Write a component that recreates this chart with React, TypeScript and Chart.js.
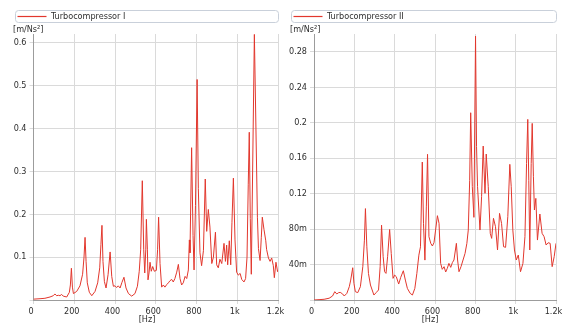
import React, { useEffect, useRef } from "react";
import { Chart, registerables } from "chart.js";

Chart.register(...registerables);

// ---------- data ----------
const seriesNames = ["Turbocompressor I", "Turbocompressor II"];
const yUnitLabel = "[m/Ns²]";
const xAxisLabel = "[Hz]";

const freqI = [
  0, 32, 56, 81, 97, 105, 114, 122, 130, 138, 146, 163, 176, 181, 186, 191, 196, 212, 228, 241,
  248, 253, 258, 264, 274, 286, 302, 315, 325, 331, 336, 341, 348, 356, 366, 376, 384, 392, 400, 408,
  416, 425, 434, 444, 454, 466, 482, 498, 510, 519, 526, 534, 541, 546, 551, 554, 559, 562, 567, 572,
  578, 585, 593, 603, 609, 614, 621, 629, 637, 645, 654, 662, 670, 678, 686, 694, 703, 711, 719, 727,
  735, 744, 752, 760, 765, 768, 776, 783, 788, 795, 803, 809, 817, 825, 834, 843, 850, 858, 866, 875,
  883, 893, 899, 907, 915, 924, 935, 942, 948, 953, 961, 968, 974, 981, 989, 997, 1005, 1014, 1022, 1033,
  1041, 1048, 1054, 1059, 1064, 1069, 1084, 1099, 1104, 1112, 1118, 1123, 1131, 1140, 1144, 1153, 1161, 1169, 1177, 1182,
  1190, 1198, 1200,
];
const ampI = [
  0.002, 0.003, 0.004, 0.007, 0.010, 0.014, 0.010, 0.011, 0.010, 0.013, 0.009, 0.007, 0.018, 0.035, 0.074, 0.030, 0.015, 0.020, 0.033, 0.060,
  0.100, 0.146, 0.090, 0.040, 0.018, 0.010, 0.020, 0.040, 0.075, 0.130, 0.174, 0.090, 0.043, 0.028, 0.059, 0.112, 0.055, 0.032, 0.033, 0.029,
  0.033, 0.028, 0.041, 0.053, 0.028, 0.015, 0.009, 0.015, 0.032, 0.067, 0.117, 0.278, 0.117, 0.063, 0.117, 0.188, 0.117, 0.047, 0.063, 0.088,
  0.067, 0.078, 0.067, 0.069, 0.117, 0.193, 0.085, 0.030, 0.035, 0.030, 0.036, 0.040, 0.045, 0.048, 0.042, 0.050, 0.065, 0.083, 0.050, 0.035,
  0.040, 0.055, 0.050, 0.070, 0.140, 0.110, 0.355, 0.150, 0.070, 0.220, 0.514, 0.260, 0.110, 0.080, 0.115, 0.282, 0.160, 0.211, 0.170, 0.085,
  0.100, 0.158, 0.082, 0.075, 0.095, 0.085, 0.132, 0.090, 0.128, 0.082, 0.138, 0.082, 0.180, 0.284, 0.140, 0.065, 0.058, 0.062, 0.048, 0.042,
  0.050, 0.100, 0.270, 0.391, 0.190, 0.060, 0.619, 0.193, 0.120, 0.092, 0.145, 0.193, 0.165, 0.138, 0.118, 0.098, 0.090, 0.098, 0.080, 0.052,
  0.088, 0.066, 0.070,
];

const freqII = [
  0, 25, 50, 75, 92, 103, 113, 122, 130, 142, 150, 163, 175, 182, 192, 198, 205, 217, 230, 242,
  250, 255, 262, 270, 280, 297, 308, 320, 328, 335, 343, 350, 357, 365, 375, 383, 392, 400, 408, 420,
  430, 443, 453, 463, 477, 488, 500, 510, 520, 528, 537, 543, 550, 557, 563, 570, 579, 587, 595, 603,
  612, 620, 628, 636, 645, 653, 661, 669, 678, 686, 694, 706, 712, 719, 729, 739, 749, 758, 765, 772,
  777, 785, 793, 801, 806, 811, 823, 831, 839, 848, 854, 864, 874, 881, 890, 900, 910, 920, 930, 940,
  950, 961, 971, 978, 986, 994, 1003, 1013, 1024, 1036, 1046, 1054, 1060, 1065, 1070, 1077, 1082, 1088, 1093, 1100,
  1108, 1120, 1131, 1141, 1151, 1161, 1171, 1181, 1191, 1200,
];
const ampII = [
  0.0, 0.0004, 0.0008, 0.002, 0.0045, 0.0094, 0.0068, 0.0083, 0.0086, 0.0068, 0.0045, 0.0075, 0.015, 0.0225, 0.0364, 0.0188, 0.0094, 0.0083, 0.015, 0.0375,
  0.0675, 0.1031, 0.060, 0.030, 0.0169, 0.0056, 0.0083, 0.0113, 0.0375, 0.0844, 0.0488, 0.0319, 0.030, 0.0488, 0.0795, 0.0525, 0.0244, 0.0281, 0.0263, 0.018,
  0.0255, 0.033, 0.0225, 0.0131, 0.0075, 0.0056, 0.0131, 0.030, 0.0506, 0.060, 0.1556, 0.086, 0.045, 0.105, 0.1643, 0.0714, 0.0639, 0.0609, 0.0646, 0.0789,
  0.0951, 0.0864, 0.0413, 0.0346, 0.0376, 0.0316, 0.0357, 0.0413, 0.0368, 0.0421, 0.0451, 0.0639, 0.0451, 0.0319, 0.0376, 0.0451, 0.0526, 0.0639, 0.0789, 0.135,
  0.2112, 0.1278, 0.0932, 0.2976, 0.1729, 0.1278, 0.0789, 0.1165, 0.1736, 0.1203, 0.1646, 0.1278, 0.0752, 0.0695, 0.0921, 0.0827, 0.0564, 0.0977, 0.0864, 0.0601,
  0.0594, 0.094, 0.153, 0.1278, 0.0789, 0.0564, 0.0451, 0.0507, 0.0319, 0.0413, 0.0714, 0.154, 0.2037, 0.135, 0.0564, 0.154, 0.1992, 0.139, 0.1015, 0.1146,
  0.0676, 0.097, 0.0752, 0.0714, 0.062, 0.0646, 0.0639, 0.0376, 0.0489, 0.0639,
];

const xMin = 0;
const xMax = 1200;
const xStep = 200;
const yMaxI = 0.62;
const yStepI = 0.1;
const yMaxII = 0.3;
const yStepII = 0.04;

// ---------- style ----------
const FONT = "'DejaVu Sans Condensed', 'Liberation Sans', sans-serif";
const FONT_SIZE = 9;
const TEXT_COLOR = "#2e2e2e";
const GRID_COLOR = "#dadada";
const AXIS_COLOR = "#9c9c9c";
const LINE_COLOR = "rgb(226, 55, 45)";

const fmtY = (v: number) => {
  if (Math.abs(v) < 1e-9) return "";
  if (v < 0.0999) return Math.round(v * 1000) + "m";
  return String(parseFloat(v.toFixed(4)));
};
const fmtX = (v: number) => (v >= 1000 ? parseFloat((v / 1000).toFixed(2)) + "k" : String(v));

const decorPlugin = {
  id: "decor",
  afterDraw(chart: any, _args: any, opts: any) {
    const ctx = chart.ctx as CanvasRenderingContext2D;
    const area = chart.chartArea;
    ctx.save();
    // legend box
    const bx = opts.boxLeft + 0.5;
    const by = 10.5;
    const bw = area.right - opts.boxLeft;
    const bh = 12;
    const r = 3;
    ctx.beginPath();
    ctx.moveTo(bx + r, by);
    ctx.lineTo(bx + bw - r, by);
    ctx.arcTo(bx + bw, by, bx + bw, by + r, r);
    ctx.lineTo(bx + bw, by + bh - r);
    ctx.arcTo(bx + bw, by + bh, bx + bw - r, by + bh, r);
    ctx.lineTo(bx + r, by + bh);
    ctx.arcTo(bx, by + bh, bx, by + bh - r, r);
    ctx.lineTo(bx, by + r);
    ctx.arcTo(bx, by, bx + r, by, r);
    ctx.closePath();
    ctx.fillStyle = "#ffffff";
    ctx.fill();
    ctx.strokeStyle = "#c9d0da";
    ctx.lineWidth = 1;
    ctx.stroke();
    // legend line
    ctx.beginPath();
    ctx.moveTo(opts.boxLeft + 2.5, 16.5);
    ctx.lineTo(opts.boxLeft + 31.5, 16.5);
    ctx.strokeStyle = LINE_COLOR;
    ctx.lineWidth = 1.2;
    ctx.stroke();
    // legend text
    ctx.font = `${FONT_SIZE}px ${FONT}`;
    ctx.fillStyle = TEXT_COLOR;
    ctx.textAlign = "left";
    ctx.textBaseline = "middle";
    ctx.fillText(opts.name, opts.boxLeft + 36, 16.5);
    // y unit
    ctx.textBaseline = "alphabetic";
    ctx.fillText(yUnitLabel, opts.unitX, 31.5);
    // x title
    ctx.textAlign = "center";
    ctx.textBaseline = "middle";
    ctx.fillText(xAxisLabel, opts.xTitleX, 320);
    ctx.restore();
  },
};

type PanelProps = {
  name: string;
  freq: number[];
  amp: number[];
  yMax: number;
  yStep: number;
  yAxisWidth: number;
  padRight: number;
  boxLeft: number;
  unitX: number;
  xTitleX: number;
  left: number;
  width: number;
};

function Panel(p: PanelProps) {
  const ref = useRef<HTMLCanvasElement | null>(null);
  useEffect(() => {
    if (!ref.current) return;
    const points = p.freq.map((f, i) => ({ x: f, y: p.amp[i] }));
    const font = { family: FONT, size: FONT_SIZE };
    const chart = new Chart(ref.current, {
      type: "line",
      data: {
        datasets: [
          {
            label: p.name,
            data: points,
            borderColor: LINE_COLOR,
            borderWidth: 1,
            pointRadius: 0,
            tension: 0,
            fill: false,
          },
        ],
      },
      options: {
        responsive: false,
        animation: false,
        events: [],
        layout: { padding: { top: 34, right: p.padRight, left: 0, bottom: 0 } },
        plugins: {
          legend: { display: false },
          tooltip: { enabled: false },
          decor: { name: p.name, boxLeft: p.boxLeft, unitX: p.unitX, xTitleX: p.xTitleX },
        } as any,
        scales: {
          x: {
            type: "linear",
            min: xMin,
            max: xMax,
            ticks: {
              stepSize: xStep,
              autoSkip: false,
              maxRotation: 0,
              padding: 2,
              labelOffset: -2.5,
              color: TEXT_COLOR,
              font,
              callback: (v: any) => fmtX(Number(v)),
            },
            grid: { color: GRID_COLOR, tickLength: 4 },
            border: { color: AXIS_COLOR },
            afterFit: (s: any) => {
              s.height = 26;
              s.paddingLeft = 0;
              s.paddingRight = 0;
            },
          },
          y: {
            type: "linear",
            min: 0,
            max: p.yMax,
            ticks: {
              stepSize: p.yStep,
              includeBounds: false,
              padding: 3,
              color: TEXT_COLOR,
              font,
              callback: (v: any) => fmtY(Number(v)),
            },
            grid: { color: GRID_COLOR, tickLength: 4 },
            border: { color: AXIS_COLOR },
            afterFit: (s: any) => {
              s.width = p.yAxisWidth;
              s.paddingTop = 0;
              s.paddingBottom = 0;
            },
          },
        },
      } as any,
      plugins: [decorPlugin as any],
    });
    return () => chart.destroy();
  }, []);
  return (
    <canvas
      ref={ref}
      width={p.width}
      height={326}
      style={{ position: "absolute", left: p.left, top: 0, display: "block", width: p.width, height: 326 }}
    />
  );
}

export default function App() {
  return (
    <div style={{ position: "fixed", left: 0, top: 0, width: 566, height: 326, background: "#fff" }}>
      <Panel
        name={seriesNames[0]}
        freq={freqI}
        amp={ampI}
        yMax={yMaxI}
        yStep={yStepI}
        yAxisWidth={33.5}
        padRight={12}
        boxLeft={15}
        unitX={13}
        xTitleX={147}
        left={0}
        width={290}
      />
      <Panel
        name={seriesNames[1]}
        freq={freqII}
        amp={ampII}
        yMax={yMaxII}
        yStep={yStepII}
        yAxisWidth={31}
        padRight={10}
        boxLeft={8}
        unitX={7}
        xTitleX={147}
        left={283}
        width={283}
      />
    </div>
  );
}
